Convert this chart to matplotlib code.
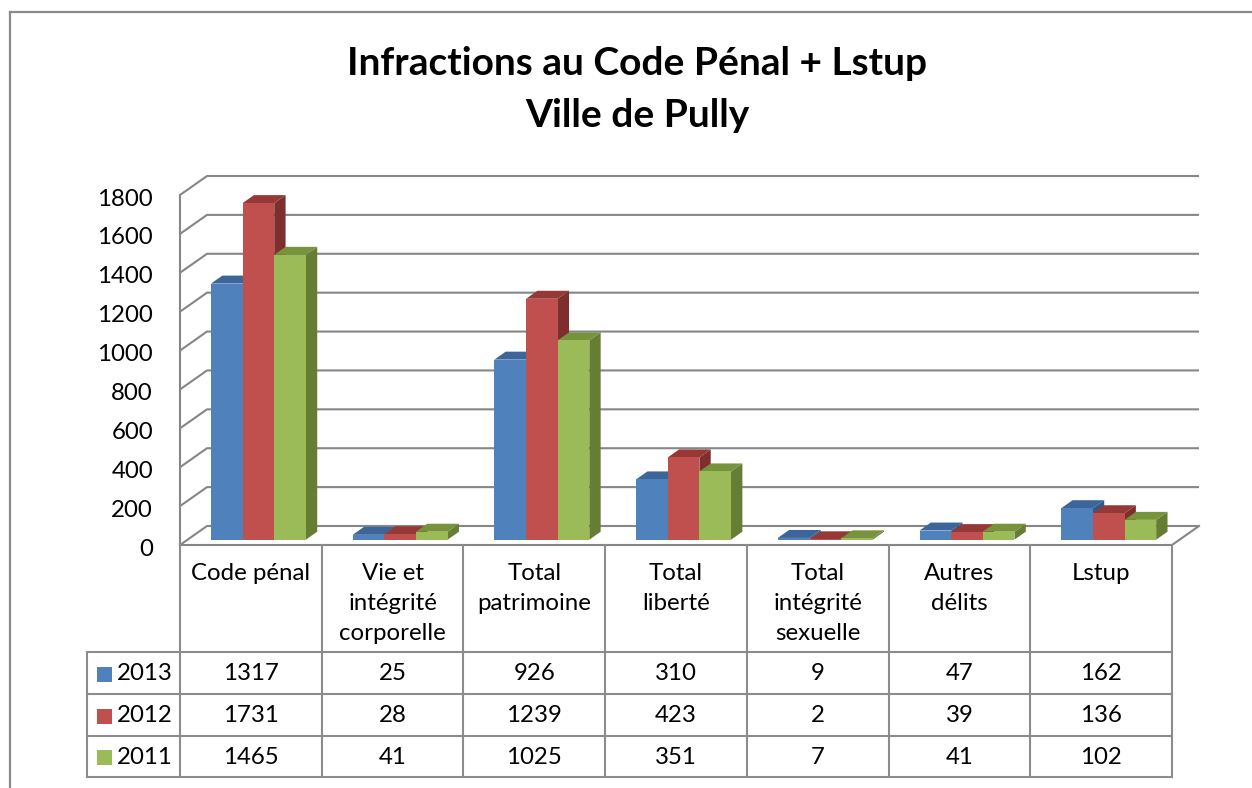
import matplotlib
matplotlib.use("Agg")
import matplotlib.pyplot as plt
from matplotlib.patches import Polygon, Rectangle
from matplotlib.lines import Line2D

# ---------------- data ----------------
categories = ["Code pénal", "Vie et\nintégrité\ncorporelle", "Total\npatrimoine",
              "Total\nliberté", "Total\nintégrité\nsexuelle", "Autres\ndélits", "Lstup"]
series_names = ["2013", "2012", "2011"]
values_2013 = [1317, 25, 926, 310, 9, 47, 162]
values_2012 = [1731, 28, 1239, 423, 2, 39, 136]
values_2011 = [1465, 41, 1025, 351, 7, 41, 102]
series_values = [values_2013, values_2012, values_2011]
y_ticks = [0, 200, 400, 600, 800, 1000, 1200, 1400, 1600, 1800]
title_lines = ["Infractions au Code Pénal + Lstup", "Ville de Pully"]

# ---------------- style ----------------
front_cols = ["#4F81BD", "#C0504D", "#9BBB59"]
top_cols = ["#3C6699", "#963836", "#77933C"]
side_cols = ["#335888", "#7E2F2D", "#657E34"]
grid_col = "#868686"
table_col = "#8C8C8C"
FONT = ["Lato", "DejaVu Sans"]
plt.rcParams['font.family'] = FONT
FS = 17.3

W, H = 1252, 788
fig = plt.figure(figsize=(W / 100, H / 100), dpi=100)
fig.patch.set_facecolor("white")
ax = fig.add_axes([0, 0, 1, 1])
ax.axis("off")

# layout (pixels): front plane x=0 at 180px, category width, y=0 at 545px
X0PX, CW, Y0PX, SC = 180.0, 141.714, 545.0, 0.19444
ax.set_xlim(-X0PX / CW, (W - X0PX) / CW)
ax.set_ylim(-(H - Y0PX) / SC, Y0PX / SC)


def P(px_, py_):
    return ((px_ - X0PX) / CW, (Y0PX - py_) / SC)


DX = 27.0 / CW   # depth offset in x (data units)
DY = 19.0 / SC   # depth offset in y (data units)
ncat = len(categories)
ymax = y_ticks[-1]

# ---------------- walls / gridlines ----------------
lw = 1.5
for v in y_ticks:
    ax.plot([0, DX, ncat + DX], [v, v + DY, v + DY], color=grid_col, lw=lw,
            zorder=1, solid_capstyle="butt")
# front-left vertical axis
ax.plot([0, 0], [0, ymax], color=grid_col, lw=lw, zorder=1)
# floor front edge and right diagonal
ax.plot([0, ncat, ncat + DX], [0, 0, DY], color=grid_col, lw=lw, zorder=1)

# y tick labels
for v in y_ticks:
    x_, y_ = P(153, 0)
    ax.text(x_, v - 4 / SC, f"{v}", ha="right", va="center", fontsize=FS,
            color="black")

# ---------------- 3D bars ----------------
group_w = 0.67
bw = group_w / len(series_values)
f0, f1 = 0.28, 0.70
z = 3
for i in range(ncat):
    for j, vals in enumerate(series_values):
        v = vals[i]
        xl = i + 0.5 - group_w / 2 + j * bw
        xr = xl + bw
        a0x, a0y = f0 * DX, f0 * DY
        a1x, a1y = f1 * DX, f1 * DY
        front = [(xl + a0x, a0y), (xr + a0x, a0y), (xr + a0x, v + a0y), (xl + a0x, v + a0y)]
        top = [(xl + a0x, v + a0y), (xr + a0x, v + a0y), (xr + a1x, v + a1y), (xl + a1x, v + a1y)]
        side = [(xr + a0x, a0y), (xr + a1x, a1y), (xr + a1x, v + a1y), (xr + a0x, v + a0y)]
        ax.add_patch(Polygon(side, closed=True, facecolor=side_cols[j], edgecolor="none", zorder=z))
        ax.add_patch(Polygon(top, closed=True, facecolor=top_cols[j], edgecolor="none", zorder=z))
        ax.add_patch(Polygon(front, closed=True, facecolor=front_cols[j], edgecolor="none", zorder=z))

# ---------------- data table ----------------
row_lines_px = [652, 694, 736, 777]
left_px = 87
tlw = 1.5
# horizontal lines
for py in row_lines_px:
    xa, ya = P(left_px, py)
    ax.plot([xa, ncat], [ya, ya], color=table_col, lw=tlw, zorder=2)
# verticals at category boundaries
_, y_bot = P(0, row_lines_px[-1])
for k in range(ncat + 1):
    ax.plot([k, k], [0, y_bot], color=table_col, lw=tlw, zorder=2)
# left border of row header column
xa, ya = P(left_px, row_lines_px[0])
ax.plot([xa, xa], [ya, y_bot], color=table_col, lw=tlw, zorder=2)

# header labels (one line of text per row, 30.5 px apart)
line_gap_px = 30.5
for i, c in enumerate(categories):
    for k, part in enumerate(c.split("\n")):
        _, yk = P(0, 573 + k * line_gap_px)
        ax.text(i + 0.5, yk, part, ha="center", va="center", fontsize=FS,
                color="black")

# rows
for r, (name, vals) in enumerate(zip(series_names, series_values)):
    yc_px = (row_lines_px[r] + row_lines_px[r + 1]) / 2 + 1
    _, yc = P(0, yc_px)
    sx0, sy0 = P(97, yc_px + 7.5)
    sx1, sy1 = P(112, yc_px - 7.5)
    ax.add_patch(Rectangle((sx0, sy0), sx1 - sx0, sy1 - sy0,
                           facecolor=front_cols[r], edgecolor="none", zorder=3))
    tx, _ = P(117, 0)
    ax.text(tx, yc, name, ha="left", va="center", fontsize=FS, color="black")
    for i, v in enumerate(vals):
        ax.text(i + 0.5, yc, f"{v}", ha="center", va="center", fontsize=FS,
                color="black")

# ---------------- title ----------------
fig.text(637 / W, 1 - 75 / H, title_lines[0], ha="center", va="baseline",
         fontsize=28, fontweight="bold", color="black")
fig.text(637 / W, 1 - 127 / H, title_lines[1], ha="center", va="baseline",
         fontsize=28, fontweight="bold", color="black")

# ---------------- chart border (cropped) ----------------
fig.add_artist(Line2D([10 / W, 10 / W], [0, 1 - 12 / H], transform=fig.transFigure,
                      color="#8A8A8A", lw=1.6))
fig.add_artist(Line2D([10 / W, 1], [1 - 12 / H, 1 - 12 / H], transform=fig.transFigure,
                      color="#8A8A8A", lw=1.6))

fig.savefig("out.png", dpi=100, facecolor="white")
